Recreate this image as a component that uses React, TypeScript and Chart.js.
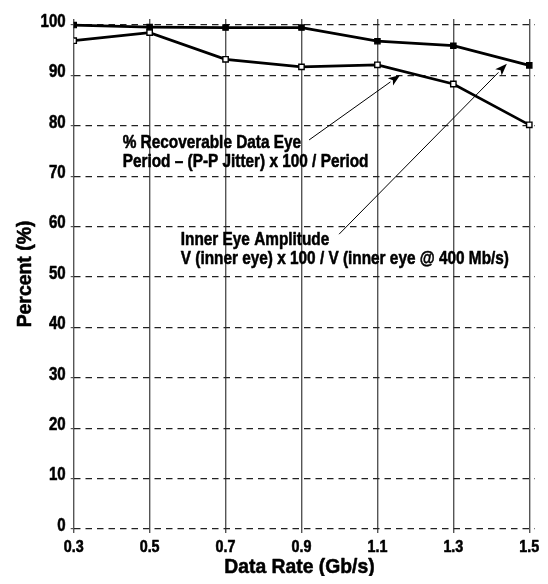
import React, { useEffect, useRef } from "react";
import { Chart, registerables } from "chart.js";

Chart.register(...registerables);

const dataRates = [0.3, 0.5, 0.7, 0.9, 1.1, 1.3, 1.5];
const innerEyeAmplitude = [100, 99.6, 99.5, 99.5, 96.8, 95.9, 92.0];
const recoverableEye = [96.9, 98.5, 93.2, 91.7, 92.1, 88.3, 80.2];
const xTickValues = [0.3, 0.5, 0.7, 0.9, 1.1, 1.3, 1.5];
const yTickValues = [0, 10, 20, 30, 40, 50, 60, 70, 80, 90, 100];
const xTitle = "Data Rate (Gb/s)";
const yTitle = "Percent (%)";

const note1Lines = ["% Recoverable Data Eye", "Period \u2013 (P-P Jitter) x 100 / Period"];
const note1Pos = { x: 0.429, y: 75.7, dy: -3.8 };
const arrow1 = { from: { x: 0.92, y: 77.2 }, to: { x: 1.16, y: 90.1 } };
const note2Lines = ["Inner Eye Amplitude", "V (inner eye) x 100 / V (inner eye @ 400 Mb/s)"];
const note2Pos = { x: 0.582, y: 56.4, dy: -3.9 };
const arrow2 = { from: { x: 0.999, y: 58.5 }, to: { x: 1.441, y: 92.3 } };

const FONT = "'Liberation Sans', Arial, sans-serif";

function drawText(ctx: any, text: string, x: number, y: number, size: number, sx: number, align: string, rotate = false) {
  ctx.save();
  ctx.translate(x, y);
  if (rotate) ctx.rotate(-Math.PI / 2);
  ctx.scale(sx, 1);
  ctx.font = `bold ${size}px ${FONT}`;
  ctx.textAlign = align;
  ctx.textBaseline = "alphabetic";
  ctx.fillStyle = "#000";
  ctx.strokeStyle = "#000";
  ctx.lineWidth = 0.55;
  ctx.lineJoin = "round";
  ctx.fillText(text, 0, 0);
  ctx.strokeText(text, 0, 0);
  ctx.restore();
}

const annotationPlugin = {
  id: "notes",
  afterDraw(chart: any) {
    const { ctx, scales, chartArea } = chart;
    const xs = scales.x;
    const ys = scales.y;
    ctx.save();
    const drawNote = (lines: string[], pos: any) => {
      lines.forEach((l, i) => {
        drawText(ctx, l, xs.getPixelForValue(pos.x), ys.getPixelForValue(pos.y + i * pos.dy), 18.5, 0.83, "left");
      });
    };
    drawNote(note1Lines, note1Pos);
    drawNote(note2Lines, note2Pos);
    const drawArrow = (a: any) => {
      const x1 = xs.getPixelForValue(a.from.x);
      const y1 = ys.getPixelForValue(a.from.y);
      const x2 = xs.getPixelForValue(a.to.x);
      const y2 = ys.getPixelForValue(a.to.y);
      const ang = Math.atan2(y2 - y1, x2 - x1);
      const len = 12;
      const w = 4.5;
      const bx = x2 - len * Math.cos(ang);
      const by = y2 - len * Math.sin(ang);
      ctx.strokeStyle = "#000";
      ctx.fillStyle = "#000";
      ctx.lineWidth = 1;
      ctx.beginPath();
      ctx.moveTo(x1, y1);
      ctx.lineTo(bx, by);
      ctx.stroke();
      ctx.beginPath();
      ctx.moveTo(x2, y2);
      ctx.lineTo(bx + w * Math.sin(ang), by - w * Math.cos(ang));
      ctx.lineTo(x2 - (len - 3) * Math.cos(ang), y2 - (len - 3) * Math.sin(ang));
      ctx.lineTo(bx - w * Math.sin(ang), by + w * Math.cos(ang));
      ctx.closePath();
      ctx.fill();
    };
    drawArrow(arrow1);
    drawArrow(arrow2);

    // tick labels (condensed look)
    yTickValues.forEach((v) => {
      drawText(ctx, String(v), chartArea.left - 8, ys.getPixelForValue(v) + 1.8, 17.7, 0.85, "right");
    });
    xTickValues.forEach((v) => {
      drawText(ctx, v.toFixed(1), xs.getPixelForValue(v), chartArea.bottom + 23.4, 16.3, 0.88, "center");
    });
    // axis titles
    const tx = (xs.getPixelForValue(xTickValues[0]) + xs.getPixelForValue(xTickValues[xTickValues.length - 1])) / 2 - 2;
    drawText(ctx, xTitle, tx, Math.min(chartArea.bottom + 46.7, chart.height - 3), 21, 0.92, "center");
    drawText(ctx, yTitle, chartArea.left - 42.8, (chartArea.top + chartArea.bottom) / 2, 20, 0.97, "center", true);
    ctx.restore();
  },
};

export default function App() {
  const ref = useRef<HTMLCanvasElement>(null);
  useEffect(() => {
    if (!ref.current) return;
    const chart = new Chart(ref.current, {
      type: "line",
      data: {
        datasets: [
          {
            label: "Inner Eye Amplitude",
            data: dataRates.map((x, i) => ({ x, y: innerEyeAmplitude[i] })),
            borderColor: "#000",
            backgroundColor: "#000",
            borderWidth: 2.7,
            pointStyle: "rect",
            pointRadius: 3.8,
            pointBorderWidth: 1.2,
            pointBackgroundColor: "#000",
            pointBorderColor: "#000",
            tension: 0,
          },
          {
            label: "% Recoverable Data Eye",
            data: dataRates.map((x, i) => ({ x, y: recoverableEye[i] })),
            borderColor: "#000",
            backgroundColor: "#fff",
            borderWidth: 2.7,
            pointStyle: "rect",
            pointRadius: 3.8,
            pointBorderWidth: 1.4,
            pointBackgroundColor: "#fff",
            pointBorderColor: "#000",
            tension: 0,
          },
        ],
      },
      options: {
        animation: false,
        responsive: true,
        maintainAspectRatio: false,
        layout: { padding: { top: 7, right: 0, left: 0, bottom: 2 } },
        plugins: { legend: { display: false }, tooltip: { enabled: false } },
        scales: {
          x: {
            type: "linear",
            min: 0.3,
            max: 1.514,
            afterBuildTicks: (s: any) => {
              s.ticks = xTickValues.map((v) => ({ value: v }));
            },
            afterFit: (s: any) => {
              s.paddingRight = 5;
            },
            ticks: {
              color: "rgba(0,0,0,0)",
              font: { family: FONT, size: 16, weight: "bold", lineHeight: 1 },
              padding: 4,
              maxRotation: 0,
              autoSkip: false,
              callback: (v: any) => Number(v).toFixed(1),
            },
            grid: { color: "#555", lineWidth: 1.4, drawTicks: true, tickLength: 4 },
            border: { display: false },
            title: {
              display: true,
              text: xTitle,
              color: "rgba(0,0,0,0)",
              font: { family: FONT, size: 20, weight: "bold", lineHeight: 0.8 },
              padding: { top: 1, bottom: 0 },
            },
          },
          y: {
            type: "linear",
            min: 0,
            max: 101.2,
            afterBuildTicks: (s: any) => {
              s.ticks = yTickValues.map((v) => ({ value: v }));
            },
            ticks: {
              color: "rgba(0,0,0,0)",
              font: { family: FONT, size: 16, weight: "bold", lineHeight: 1 },
              padding: 3,
              autoSkip: false,
            },
            grid: {
              color: "#222",
              lineWidth: 1.2,
              drawTicks: true,
              tickLength: 3,
              tickBorderDash: [],
              tickColor: "#555",
            },
            border: { display: false, dash: [6.5, 5] },
            title: {
              display: true,
              text: yTitle,
              color: "rgba(0,0,0,0)",
              font: { family: FONT, size: 20, weight: "bold", lineHeight: 1 },
              padding: { top: 5, bottom: 5 },
            },
          },
        },
      },
      plugins: [annotationPlugin],
    } as any);
    return () => chart.destroy();
  }, []);
  return (
    <div style={{ width: 532, height: 568, position: "relative" }}>
      <canvas ref={ref} />
    </div>
  );
}
